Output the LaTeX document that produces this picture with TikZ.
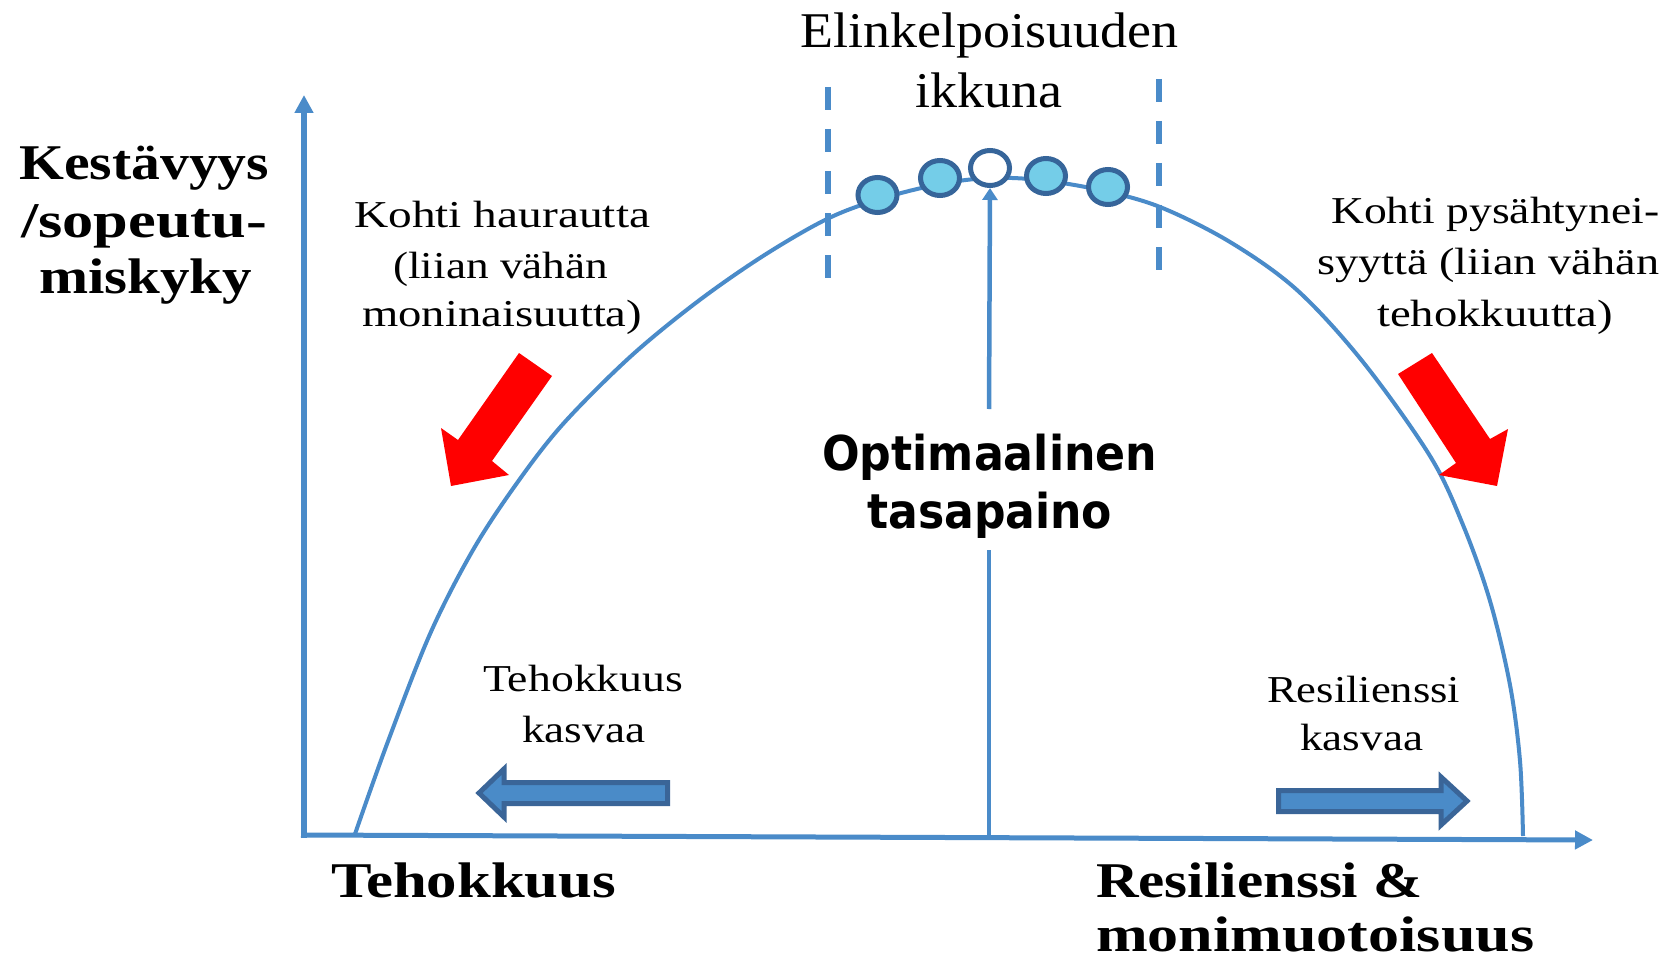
\documentclass[tikz,border=0pt]{standalone}
\usepackage{fontspec}
\usepackage{graphicx}
\setmainfont{Liberation Serif}
\newfontfamily\optfont{DejaVu Sans}
\usetikzlibrary{arrows.meta,shapes.geometric}
\definecolor{axisblue}{HTML}{4A8BC9}
\definecolor{dotfill}{HTML}{74CDE8}
\definecolor{dotedge}{HTML}{36659A}
\definecolor{barrowfill}{HTML}{4A8BC8}
\definecolor{barrowedge}{HTML}{3A6598}
\newsavebox\fitbox
\newdimen\fitdim
\newcommand\fitw[2]{\sbox\fitbox{#2}\fitdim=\wd\fitbox\relax\pgfmathsetmacro\fitr{#1/\fitdim}\scalebox{\fitr}[1]{\usebox\fitbox}}
\newcommand\fsElin{\fontsize{50}{60}\selectfont}
\newcommand\fsMid{\fontsize{38}{46}\selectfont}
\newcommand\fsBold{\fontsize{50}{58}\selectfont\bfseries}
\newcommand\fsOpt{\optfont\bfseries\fontsize{48}{58}\selectfont}
\begin{document}
\begin{tikzpicture}[x=1pt,y=-1pt,
  lbl/.style={inner sep=0pt, anchor=base west},
  dot/.style={ellipse, draw=dotedge, line width=5pt, fill=dotfill, minimum width=39pt, minimum height=35pt, inner sep=0pt},
  axis/.style={draw=axisblue, line width=5.5pt},
  redarrow/.style={fill=red, draw=none},
  bluearrow/.style={fill=barrowfill, draw=barrowedge, line width=5pt, line join=miter},
  windowline/.style={draw=axisblue, line width=6pt, dash pattern=on 23pt off 19pt}]
\useasboundingbox (0,0) rectangle (1670,960);
\fill[white] (0,0) rectangle (1670,960);

% curve
\draw[axisblue, line width=4pt] plot[smooth, tension=0.55] coordinates {
  (355,834) (387,744) (430,634) (473,550) (517,483) (563,424) (630,357)
  (697,302) (763,256) (827,219) (880,199) (940,184) (990,178) (1040,180)
  (1100,190) (1160,207) (1230,242) (1297,290) (1363,362) (1430,456)
  (1463,525) (1490,601) (1510,685) (1520,761) (1523,836)};

% axes
\coordinate (O) at (304,838);
\coordinate (ytop) at (304,95);
\coordinate (xstart) at (301,835);
\coordinate (xend) at (1593,840);
\draw[axis, -{Triangle[width=18pt,length=18pt]}] (O) -- (ytop);
\draw[axis, line width=5pt, -{Triangle[width=18pt,length=18pt]}] (xstart) -- (xend);

% window dashed lines
\draw[windowline] (828,87) -- (828,280);
\draw[windowline] (1159,79) -- (1159,272);

% dots
\node[dot] (c1) at (877.5,195) {};
\node[dot] (c2) at (940,178) {};
\node[dot, fill=white] (c3) at (990,168) {};
\node[dot] (c4) at (1046,176) {};
\node[dot] (c5) at (1108,187) {};

% vertical arrow
\coordinate (vbot) at (989,836);
\coordinate (vgap1) at (989,550);
\coordinate (vgap2) at (989,409);
\draw[axisblue, line width=4.5pt] (vbot) -- (vgap1);
\draw[axisblue, line width=4.5pt, -{Triangle[width=15pt,length=12pt]}] (vgap2) -- (c3.south);

% red arrows
\fill[redarrow] (519,353) -- (552,376) -- (492,461) -- (509,475) -- (451,486) -- (441,428) -- (458,440) -- cycle;
\fill[redarrow] (1432,353) -- (1398,374) -- (1456,463) -- (1439,475) -- (1497,486) -- (1508,429) -- (1490,439) -- cycle;

% blue block arrows
\draw[bluearrow] (667.5,782.5) -- (504,782.5) -- (504,769) -- (479,793) -- (504,817) -- (504,803.5) -- (667.5,803.5) -- cycle;
\draw[bluearrow] (1278.5,790.5) -- (1441,790.5) -- (1441,777) -- (1467,801) -- (1441,825) -- (1441,811.5) -- (1278.5,811.5) -- cycle;

% texts
\node[lbl, font=\fsElin] (t1a) at (800,48) {\fitw{378}{Elinkelpoisuuden}};
\node[lbl, font=\fsElin] (t1b) at (915,108) {\fitw{147}{ikkuna}};

\node[lbl, font=\fsMid] (l1) at (354,228) {\fitw{296}{Kohti haurautta}};
\node[lbl, font=\fsMid] (l2) at (393,278) {\fitw{215}{(liian vähän}};
\node[lbl, font=\fsMid] (l3) at (362,326) {\fitw{280}{moninaisuutta)}};

\node[lbl, font=\fsMid] (r1) at (1331,223) {\fitw{328}{Kohti pysähtynei-}};
\node[lbl, font=\fsMid] (r2) at (1317,274) {\fitw{342}{syyttä (liian vähän}};
\node[lbl, font=\fsMid] (r3) at (1377,326) {\fitw{236}{tehokkuutta)}};

\node[lbl, font=\fsMid] (e1) at (483,691) {\fitw{200}{Tehokkuus}};
\node[lbl, font=\fsMid] (e2) at (522,742) {\fitw{123}{kasvaa}};
\node[lbl, font=\fsMid] (s1) at (1267,702) {\fitw{193}{Resilienssi}};
\node[lbl, font=\fsMid] (s2) at (1300,750) {\fitw{123}{kasvaa}};

\node[lbl, font=\fsBold] (k1) at (19,180) {\fitw{250}{Kestävyys}};
\node[lbl, font=\fsBold] (k2) at (21,237) {\fitw{246}{/sopeutu-}};
\node[lbl, font=\fsBold] (k3) at (39,293) {\fitw{213}{miskyky}};

\node[lbl, font=\fsBold] (b1) at (331,897) {\fitw{285}{Tehokkuus}};
\node[lbl, font=\fsBold] (b2) at (1096,897) {\fitw{326}{Resilienssi \&}};
\node[lbl, font=\fsBold] (b3) at (1096,951) {\fitw{438}{monimuotoisuus}};

\node[lbl, font=\fsOpt] (o1) at (822,470) {\fitw{335}{Optimaalinen}};
\node[lbl, font=\fsOpt] (o2) at (867,528) {\fitw{245}{tasapaino}};
\end{tikzpicture}
\end{document}
